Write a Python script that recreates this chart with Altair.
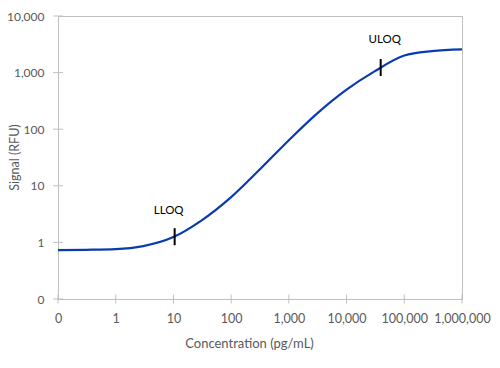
import altair as alt
import pandas as pd

# Curve points (concentration pg/mL, signal RFU)
conc = [0.1, 0.3, 1, 3, 10, 30, 100, 300, 1000, 3000, 10000, 30000, 100000, 300000, 1000000]
signal = [0.73, 0.74, 0.76, 0.86, 1.24, 2.4, 6.3, 18.6, 64, 185, 500, 1040, 2000, 2400, 2570]

# Limits of quantification
loq_names = ["LLOQ", "ULOQ"]
loq_conc = [10.5, 39000]
loq_signal = [1.26, 1230]

x_ticks = [0.1, 1, 10, 100, 1000, 10000, 100000, 1000000]
y_ticks = [0.1, 1, 10, 100, 1000, 10000]

curve = pd.DataFrame({"conc": conc, "signal": signal})
loq = pd.DataFrame({"name": loq_names, "conc": loq_conc, "signal": loq_signal})
xt = pd.DataFrame({"conc": x_ticks, "signal": [0.1] * len(x_ticks)})
yt = pd.DataFrame({"conc": [0.1] * len(y_ticks), "signal": y_ticks})

FONT = "Lato"
GRAY = "#595959"
AX = "#bfbfbf"

xscale = alt.Scale(type="log", domain=[0.1, 1000000], nice=False)
yscale = alt.Scale(type="log", domain=[0.1, 10000], nice=False)
label_expr = "datum.value < 1 ? '0' : format(datum.value, ',')"

x_enc = alt.X("conc:Q", scale=xscale, axis=alt.Axis(
    values=x_ticks, labelExpr=label_expr, ticks=False, tickSize=0, grid=False,
    domainColor=AX, labelColor=GRAY, labelFont=FONT, labelFontSize=12.5,
    labelPadding=13, title="Concentration (pg/mL)", titleFont=FONT,
    titleFontSize=13, titleFontWeight="normal", titleColor=GRAY,
    titleX=191, titleY=44, titleBaseline="middle", labelFlush=False,
    labelOverlap=False))
y_enc = alt.Y("signal:Q", scale=yscale, axis=alt.Axis(
    values=y_ticks, labelExpr=label_expr, ticks=False, tickSize=0, grid=False,
    domainColor=AX, labelColor=GRAY, labelFont=FONT, labelFontSize=12,
    labelPadding=14, title="Signal (RFU)", titleFont=FONT,
    titleFontSize=12.5, titleFontWeight="normal", titleColor=GRAY,
    titleX=-44, titleY=141, titleBaseline="middle", labelFlush=False,
    labelOverlap=False))

line = alt.Chart(curve).mark_line(color="#0a3ab0", strokeWidth=2.2,
                                  interpolate="monotone", clip=True).encode(
    x=x_enc, y=y_enc)

xtick_marks = alt.Chart(xt).mark_tick(orient="vertical", size=9, thickness=1,
                                      color=AX, opacity=1).encode(x="conc:Q", y="signal:Q")
ytick_marks = alt.Chart(yt).mark_tick(orient="horizontal", size=10, thickness=1,
                                      color=AX, opacity=1).encode(x="conc:Q", y="signal:Q")

loq_ticks = alt.Chart(loq).mark_tick(orient="vertical", size=17, thickness=2,
                                     color="black", opacity=1).encode(x="conc:Q", y="signal:Q")
lloq_text = alt.Chart(loq).transform_filter("datum.name == 'LLOQ'").mark_text(
    font=FONT, fontSize=11.5, color="black", dy=-26, dx=-6).encode(
    x="conc:Q", y="signal:Q", text="name:N")
uloq_text = alt.Chart(loq).transform_filter("datum.name == 'ULOQ'").mark_text(
    font=FONT, fontSize=11.5, color="black", dy=-28, dx=4).encode(
    x="conc:Q", y="signal:Q", text="name:N")

chart = alt.layer(line, xtick_marks, ytick_marks, loq_ticks, lloq_text, uloq_text).properties(
    width=404, height=283,
    padding={"left": 50, "top": 8, "right": 30, "bottom": 60},
    autosize=alt.AutoSizeParams(type="none"),
    background="white",
).configure_view(stroke=AX, strokeWidth=1)

chart.save("out.html", embed_options={"renderer": "svg", "actions": False})
